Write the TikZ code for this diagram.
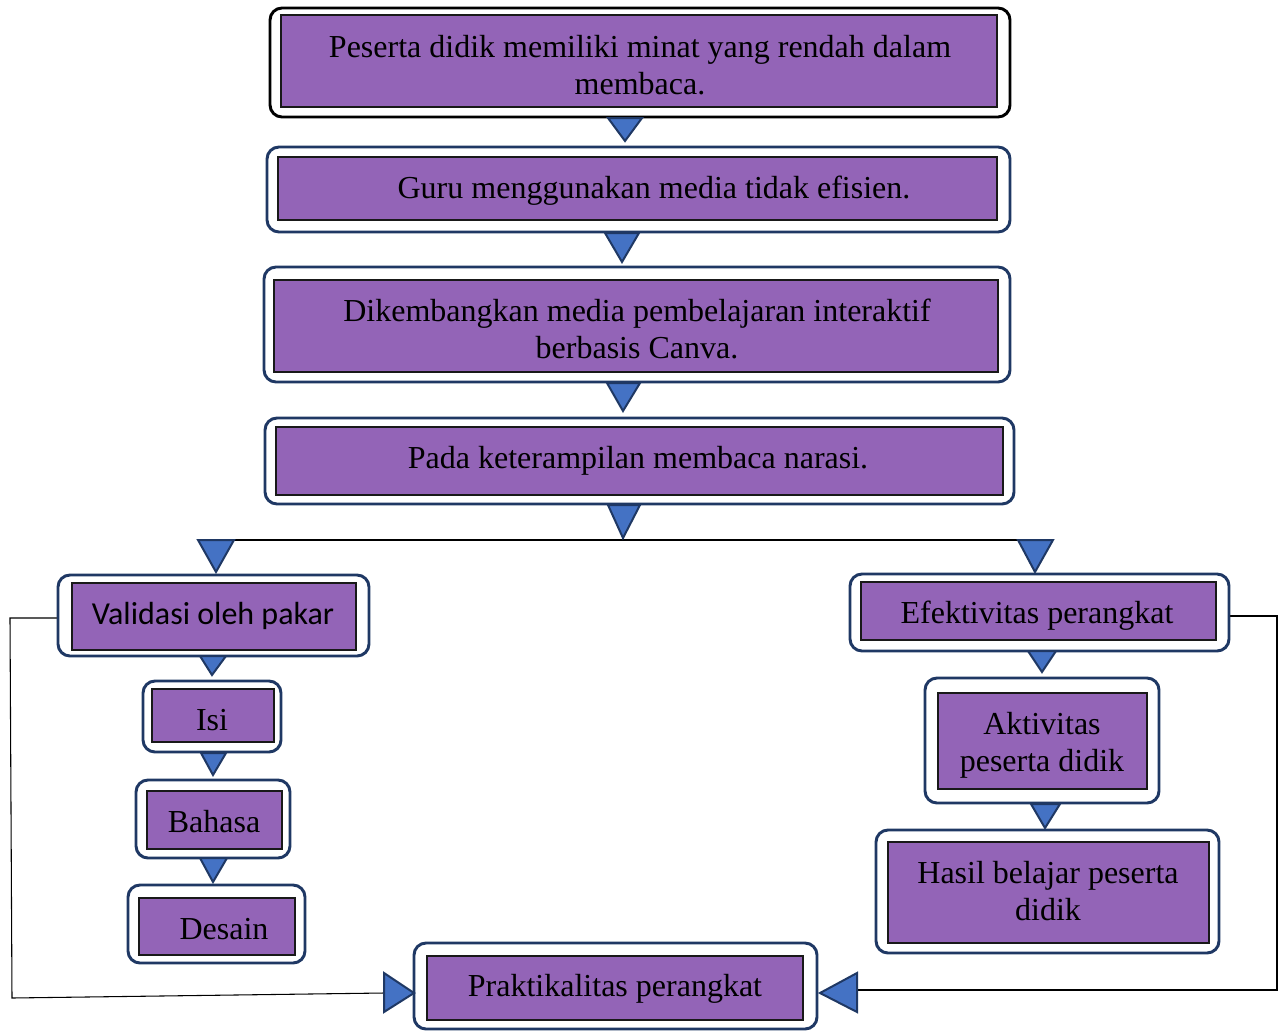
\documentclass[tikz,border=0pt]{standalone}
\usepackage{fontspec}
\setmainfont{Liberation Serif}
\newfontfamily\calibri{Carlito}
\usetikzlibrary{fit}

\definecolor{boxpurple}{HTML}{9364B7}
\definecolor{navy}{HTML}{1F3864}
\definecolor{triblue}{HTML}{4472C4}

\tikzset{
  outerbox/.style={draw=navy, line width=2.2pt, rounded corners=9pt, fill=white, inner sep=0pt},
  innerbox/.style={draw=black!90, line width=1.5pt, fill=boxpurple, inner sep=0pt},
  txt/.style={font=\fontsize{24}{27.75}\selectfont, align=center, inner sep=0pt},
  tri/.style={fill=triblue, draw=navy, line width=1.5pt, line join=miter},
  link/.style={draw=black, line width=0.8pt},
}

\begin{document}
\begin{tikzpicture}[x=0.75pt, y=-0.75pt, line cap=round]

\useasboundingbox (0,0) rectangle (1284,1031);

% Connectors (behind the boxes)
\coordinate (lTop) at (216,540);
\coordinate (rTop) at (1035,540);
\coordinate (lA) at (10,618);
\coordinate (lB) at (12,998);
\coordinate (prIn) at (384,993);
\coordinate (rA) at (1277,616);
\coordinate (rB) at (1277,990);
\coordinate (prOut) at (857,990);
\draw[link] (lTop) -- (rTop);

% Main chain
\node[outerbox, draw=black, fit={(270,8) (1010,117)}] (o1) {};
\node[innerbox, fit={(281,15) (997,107)}] (b1) {};
\node[txt] (t1) at (640,65.5) {Peserta didik memiliki minat yang rendah dalam\\membaca.};

\node[outerbox, fit={(267,147) (1010,232)}] (o2) {};
\node[innerbox, fit={(278,157) (997,220)}] (b2) {};
\node[txt] (t2) at (654,191) {Guru menggunakan media tidak efisien.};

\node[outerbox, fit={(264,267) (1010,382)}] (o3) {};
\node[innerbox, fit={(274,280) (998,372)}] (b3) {};
\node[txt] (t3) at (637,329) {Dikembangkan media pembelajaran interaktif\\berbasis Canva.};

\node[outerbox, fit={(265,418) (1014,504)}] (o4) {};
\node[innerbox, fit={(276,427) (1003,495)}] (b4) {};
\node[txt] (t4) at (638,461) {Pada keterampilan membaca narasi.};

% Left branch
\node[outerbox, fit={(58,575) (369,656)}] (oVal) {};
\node[innerbox, fit={(72,583) (356,650)}] (bVal) {};
\node[txt, font=\calibri\fontsize{24}{27.75}\selectfont] (tVal) at (213,616) {Validasi oleh pakar};

\node[outerbox, fit={(143,681) (281,752)}] (oIsi) {};
\node[innerbox, fit={(152,689) (274,742)}] (bIsi) {};
\node[txt] (tIsi) at (212,720) {Isi};

\node[outerbox, fit={(136,780) (290,858)}] (oBhs) {};
\node[innerbox, fit={(147,791) (282,849)}] (bBhs) {};
\node[txt] (tBhs) at (214,822) {Bahasa};

\node[outerbox, fit={(128,885) (305,963)}] (oDes) {};
\node[innerbox, fit={(139,898) (295,955)}] (bDes) {};
\node[txt] (tDes) at (224,929) {Desain};

% Right branch
\node[outerbox, fit={(850,574) (1229,651)}] (oEf) {};
\node[innerbox, fit={(861,582) (1216,640)}] (bEf) {};
\node[txt] (tEf) at (1037,616) {Efektivitas perangkat};

\node[outerbox, fit={(925,678) (1159,803)}] (oAkt) {};
\node[innerbox, fit={(938,693) (1147,789)}] (bAkt) {};
\node[txt] (tAkt) at (1042,745) {Aktivitas\\peserta didik};

\node[outerbox, fit={(876,830) (1219,953)}] (oHas) {};
\node[innerbox, fit={(888,842) (1209,943)}] (bHas) {};
\node[txt] (tHas) at (1048,891) {Hasil belajar peserta\\didik};

% Bottom
\node[outerbox, fit={(414,943) (817,1029)}] (oPr) {};
\node[innerbox, fit={(427,956) (803,1020)}] (bPr) {};
\node[txt] (tPr) at (615,989) {Praktikalitas perangkat};

% Side connectors
\draw[link] (oVal.west |- lA) -- (lA) -- (lB) -- (prIn);
\draw[link] (oEf.east |- rA) -- (rA) -- (rB) -- (prOut);

% Triangles
\filldraw[tri] (608,118) -- (642,118) -- (625,141) -- cycle;
\filldraw[tri] (605,233) -- (639,233) -- (622,262) -- cycle;
\filldraw[tri] (607,383) -- (640,383) -- (623,411) -- cycle;
\filldraw[tri] (608,505) -- (640,505) -- (623,538) -- cycle;
\filldraw[tri] (198,540) -- (234,540) -- (216,572) -- cycle;
\filldraw[tri] (1018,540) -- (1053,540) -- (1035,572) -- cycle;
\filldraw[tri] (200,656) -- (226,656) -- (212,675) -- cycle;
\filldraw[tri] (201,753) -- (226,753) -- (213,775) -- cycle;
\filldraw[tri] (200,858) -- (227,858) -- (213,882) -- cycle;
\filldraw[tri] (1028,651) -- (1056,651) -- (1042,672) -- cycle;
\filldraw[tri] (1031,804) -- (1060,804) -- (1045,828) -- cycle;
\filldraw[tri] (384,973) -- (384,1012) -- (414,993) -- cycle;
\filldraw[tri] (857,973) -- (857,1012) -- (820,993) -- cycle;

\end{tikzpicture}
\end{document}
